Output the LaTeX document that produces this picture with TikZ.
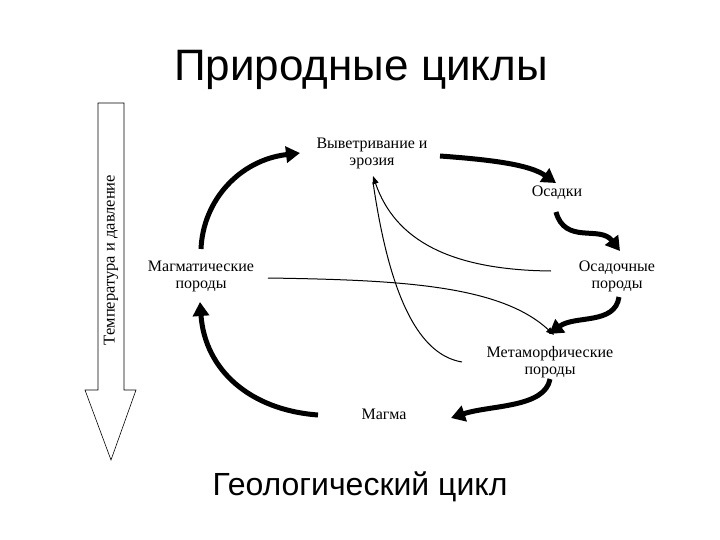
\documentclass[tikz,border=0pt]{standalone}
\usepackage{fontspec}
\setmainfont{Liberation Serif}
\newfontfamily\sansf{Liberation Sans}
\usetikzlibrary{arrows.meta}
\begin{document}
\begin{tikzpicture}[x=1pt,y=-1pt,
  lbl/.style={font=\fontsize{16}{17}\selectfont,align=center,inner sep=1pt},
  thick arr/.style={line width=5pt,-{Triangle[length=14pt,width=16pt]}},
  thin arr/.style={line width=1pt,-{Triangle[length=8pt,width=6pt]}}]
\useasboundingbox[fill=white] (0,0) rectangle (720,540);
\node[font=\sansf\fontsize{44}{48}\selectfont] (title) at (361,70) {Природные циклы};
\node[font=\sansf\fontsize{32}{36}\selectfont] (sub) at (360,487) {Геологический цикл};
% temperature arrow
\draw[line width=0.6pt,fill=white] (98,103) -- (124,103) -- (124,390) -- (136,390) -- (111,460) -- (85,390) -- (98,390) -- cycle;
\node[lbl,rotate=90,font=\fontsize{16.5}{17}\selectfont] (temp) at (111,260) {Температура и давление};
% nodes
\node[lbl] (we) at (372,153) {Выветривание и\\эрозия};
\node[lbl] (os) at (557,193) {Осадки};
\node[lbl] (op) at (617,276) {Осадочные\\породы};
\node[lbl] (mp) at (550,362) {Метаморфические\\породы};
\node[lbl] (ma) at (384,414) {Магма};
\node[lbl] (mg) at (201,276) {Магматические\\породы};
\coordinate (c1) at (201,249);
\coordinate (c2) at (300,153);
\draw[thick arr] (c1) .. controls (203,200) and (240,160) .. (c2);
\draw[thick arr] (440,156) .. controls (495,160) and (530,165) .. (556,183);
\draw[thick arr] (556,212) .. controls (565,245) and (600,225) .. (620,251);
\draw[thick arr] (619,297) .. controls (615,325) and (575,315) .. (549,334);
\draw[thick arr] (550,379) .. controls (545,408) and (490,405) .. (451,418);
\draw[thick arr] (318,415) .. controls (250,410) and (205,370) .. (200,302);
% thin
\coordinate (tipwe) at (373,176);
\draw[thin arr] (551,271) .. controls (450,270) and (395,240) .. (tipwe);
\draw[line width=1pt] (462,362) .. controls (420,355) and (390,300) .. (373,182);
\draw[thin arr] (268,278) .. controls (400,280) and (500,285) .. (554,335);
\end{tikzpicture}
\end{document}
